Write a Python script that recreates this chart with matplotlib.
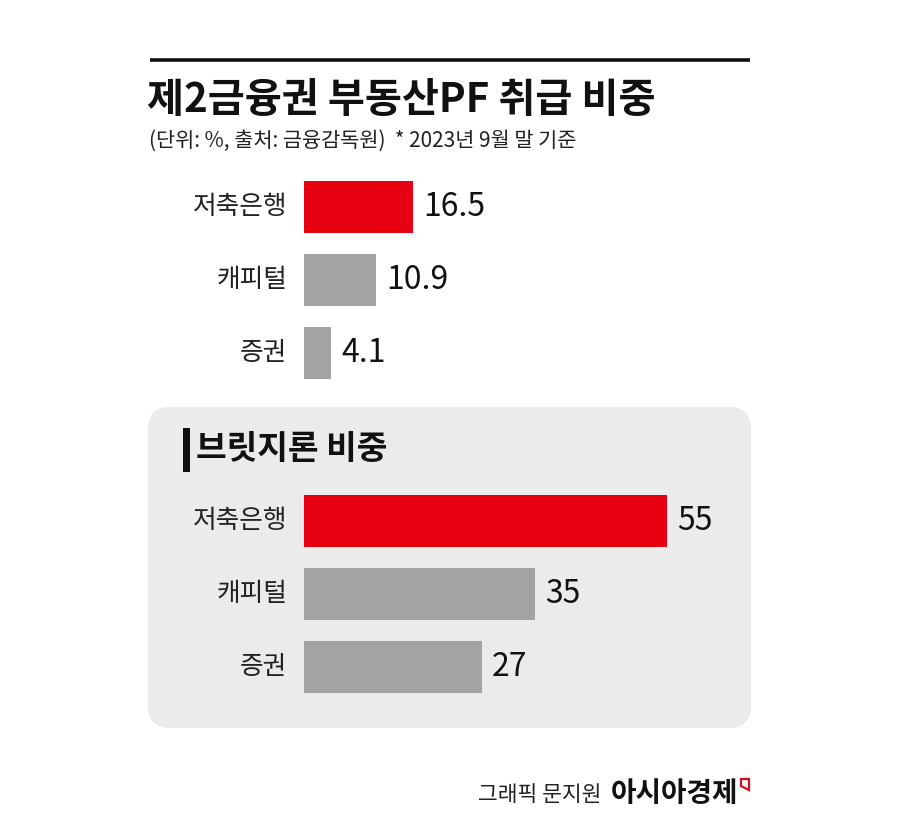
import matplotlib
matplotlib.use('Agg')
import matplotlib.pyplot as plt
from matplotlib.patches import FancyBboxPatch, Rectangle, Polygon

plt.rcParams['font.family'] = ['Noto Sans CJK KR', 'DejaVu Sans']

categories = ['저축은행', '캐피털', '증권']
pf_share = [16.5, 10.9, 4.1]
bridge_share = [55, 35, 27]
bar_colors = ['#E60012', '#A3A3A3', '#A3A3A3']

W, H = 900, 818
fig = plt.figure(figsize=(9, 8.18), dpi=100)
fig.patch.set_facecolor('white')

# overlay axes in pixel coordinates for decorations
deco = fig.add_axes([0, 0, 1, 1])
deco.set_xlim(0, W)
deco.set_ylim(H, 0)
deco.axis('off')

deco.plot([150, 750], [60, 60], color='#111111', lw=2.6, solid_capstyle='butt')
deco.text(147, 100, '제2금융권 부동산PF 취급 비중', fontsize=29, fontweight='bold',
          va='center', ha='left', color='#111111')
deco.text(149, 141, '(단위: %, 출처: 금융감독원)  * 2023년 9월 말 기준', fontsize=15,
          va='center', ha='left', color='#222222')

box = FancyBboxPatch((148, 407), 603, 321, boxstyle='round,pad=0,rounding_size=22',
                     fc='#EBEBEB', ec='none')
deco.add_patch(box)
deco.add_patch(Rectangle((183, 428), 7, 44, fc='#111111', ec='none'))
deco.text(196, 450, '브릿지론 비중', fontsize=24, fontweight='bold',
          va='center', ha='left', color='#111111')

deco.text(601, 795, '그래픽 문지원', fontsize=15.5, va='center', ha='right', color='#222222')
deco.text(611, 794, '아시아경제', fontsize=20, fontweight='heavy', va='center', ha='left',
          color='#111111')
deco.add_patch(Polygon([(741, 779), (749, 779), (749, 790), (741, 786)], closed=True,
                       fill=False, ec='#D0101A', lw=1.6))


def bar_panel(values, top_px, fmt):
    # axes spanning from top_px to top_px+220 in pixels; 1 unit = 6.6 px
    left, width, height = 304, 440, 220
    ax = fig.add_axes([left / W, 1 - (top_px + height) / H, width / W, height / H])
    ax.patch.set_alpha(0)
    y = range(len(values))
    ax.barh(y, values, height=52 / 73, color=bar_colors)
    ax.set_xlim(0, width / 6.6)
    ax.set_ylim(2 + 37 / 73, -37 / 73)
    for i, v in enumerate(values):
        ax.text(v + 10 / 6.6, i, fmt(v), fontsize=23, va='center', ha='left',
                color='#111111')
        ax.text(-17 / 6.6, i, categories[i], fontsize=18.5, va='center', ha='right',
                color='#222222')
    ax.axis('off')
    return ax


bar_panel(pf_share, 170, lambda v: f'{v:.1f}')
bar_panel(bridge_share, 484, lambda v: f'{v:g}')

fig.savefig('out.png', dpi=100)
